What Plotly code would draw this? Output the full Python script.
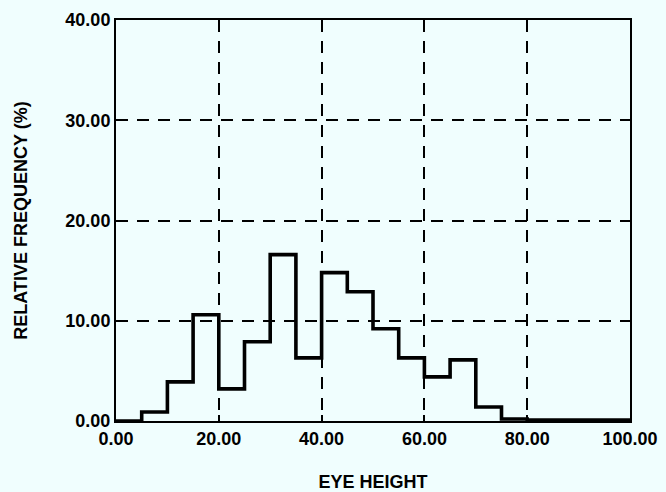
import plotly.graph_objects as go

bin_edges = [0, 5, 10, 15, 20, 25, 30, 35, 40, 45, 50, 55, 60, 65, 70, 75, 80, 85, 90, 95, 100]
rel_freq = [0.0, 0.9, 3.9, 10.6, 3.2, 7.9, 16.6, 6.3, 14.8, 12.9, 9.2, 6.3, 4.4, 6.1, 1.4, 0.2, 0.1, 0.1, 0.1, 0.1]
x_ticks = [0, 20, 40, 60, 80, 100]
y_ticks = [0, 10, 20, 30, 40]

step_y = rel_freq + [rel_freq[-1]]

fig = go.Figure()
fig.add_trace(go.Scatter(
    x=bin_edges, y=step_y, mode="lines", line_shape="hv",
    line=dict(color="black", width=3.6), showlegend=False, hoverinfo="skip",
))

FAM = "Liberation Sans, Arial, sans-serif"
tickfont = dict(family=FAM, size=18, color="black", weight="bold")
titlefont = dict(family=FAM, size=18, color="black")

common = dict(
    showgrid=True, griddash="12px,9px", gridcolor="black", gridwidth=1.6,
    showline=True, linecolor="black", linewidth=2, mirror=True,
    ticks="inside", ticklen=6, tickcolor="black", tickwidth=1.5,
    zeroline=False, automargin=False, tickformat=".2f",
    tickfont=tickfont,
)

fig.update_layout(
    width=666, height=492,
    margin=dict(l=116, r=36, t=20, b=71),
    paper_bgcolor="#f0fefe", plot_bgcolor="#f0fefe",
    font=dict(family=FAM, size=18, color="black"),
    xaxis=dict(range=[0, 100], tickvals=x_ticks,
               title=dict(text="<b>EYE HEIGHT</b>", standoff=28, font=titlefont),
               **common),
    yaxis=dict(range=[0, 40], tickvals=y_ticks,
               title=dict(text="<b>RELATIVE FREQUENCY (%)</b>", standoff=33, font=titlefont),
               **common),
)

fig.write_html("out.html")
